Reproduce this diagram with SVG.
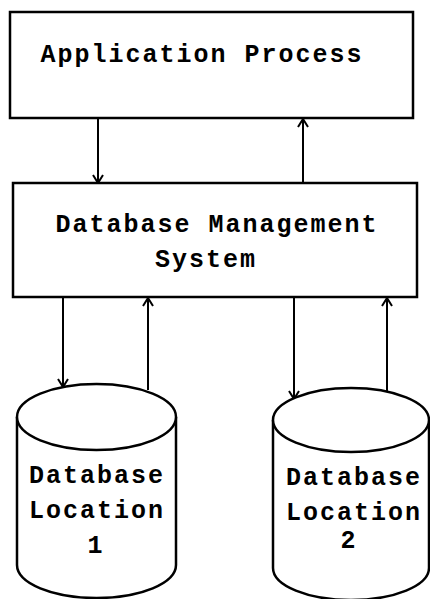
<svg xmlns="http://www.w3.org/2000/svg" width="430" height="599" viewBox="0 0 430 599">
  <style>
    .box { fill: #fff; stroke: #000; stroke-width: 2.5; }
    .cyl { fill: #fff; stroke: #000; stroke-width: 2.5; }
    .flow { fill: none; stroke: #000; stroke-width: 2; }
    .lbl { font-family: "Liberation Mono", "Courier New", monospace; font-weight: bold; font-size: 25px; letter-spacing: 2px; fill: #000; text-anchor: middle; }
  </style>
  <defs>
    <marker id="arrow" viewBox="0 0 12 12" refX="11" refY="6" markerWidth="12" markerHeight="12" markerUnits="userSpaceOnUse" orient="auto">
      <polyline points="3,1 11,6 3,11" fill="none" stroke="#000" stroke-width="2"/>
    </marker>
  </defs>
  <rect width="430" height="599" fill="#fff"/>

  <g id="connectors">
    <line class="flow" x1="98" y1="118" x2="98" y2="183" marker-end="url(#arrow)"/>
    <line class="flow" x1="303" y1="183" x2="303" y2="119" marker-end="url(#arrow)"/>
    <line class="flow" x1="63" y1="297" x2="63" y2="387" marker-end="url(#arrow)"/>
    <line class="flow" x1="148" y1="390" x2="148" y2="298" marker-end="url(#arrow)"/>
    <line class="flow" x1="294" y1="297" x2="294" y2="399" marker-end="url(#arrow)"/>
    <line class="flow" x1="387" y1="391" x2="387" y2="298" marker-end="url(#arrow)"/>
  </g>

  <g id="application-process">
    <rect class="box" x="10" y="12" width="403" height="106"/>
    <text class="lbl" x="202" y="62">Application Process</text>
  </g>

  <g id="dbms">
    <rect class="box" x="13" y="183" width="404" height="114"/>
    <text class="lbl" x="217" y="232">Database Management</text>
    <text class="lbl" x="206" y="267">System</text>
  </g>

  <g id="database-location-1">
    <path class="cyl" d="M17,417 L17,565 A79.5,33 0 0 0 176,565 L176,417 A79.5,33 0 0 0 17,417 Z"/>
    <path class="cyl" d="M17,417 A79.5,33 0 0 0 176,417" fill="none"/>
    <text class="lbl" x="97" y="483">Database</text>
    <text class="lbl" x="97" y="518">Location</text>
    <text class="lbl" x="96" y="553">1</text>
  </g>

  <g id="database-location-2">
    <path class="cyl" d="M273,420 L273,568 A78,32 0 0 0 429,568 L429,420 A78,32 0 0 0 273,420 Z"/>
    <path class="cyl" d="M273,420 A78,32 0 0 0 429,420" fill="none"/>
    <text class="lbl" x="354" y="485">Database</text>
    <text class="lbl" x="354" y="520">Location</text>
    <text class="lbl" x="349" y="548">2</text>
  </g>
</svg>
